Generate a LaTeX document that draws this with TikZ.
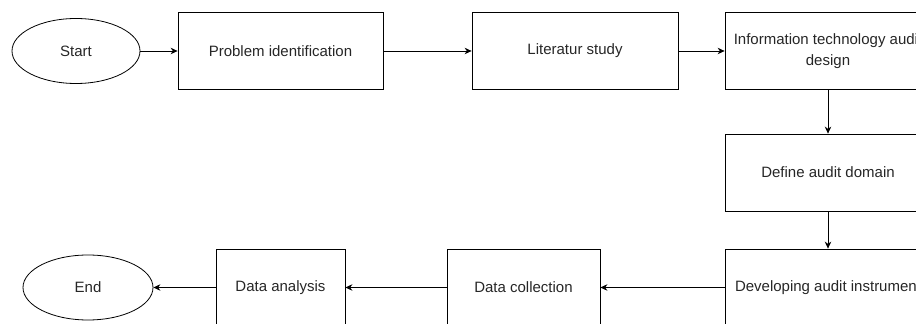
\documentclass[tikz,border=0pt]{standalone}
\usepackage{fontspec}
\setmainfont{Liberation Sans}
\usetikzlibrary{arrows.meta,shapes.geometric}

\begin{document}
\begin{tikzpicture}[x=1pt,y=1pt,font=\fontsize{15}{21}\selectfont,
    stepbox/.style={draw,line width=.8pt,minimum height=77,inner sep=2pt,align=center,text=black!85},
    term/.style={draw,ellipse,line width=.8pt,minimum height=65,text=black!85},
    flow/.style={-{Stealth[length=7pt,width=6.5pt]},line width=.8pt}]
  \useasboundingbox (0,0) rectangle (916,324);
  \clip (0,0) rectangle (916,324);
  \node[term,minimum width=128] (start) at (76,273) {Start};
  \node[stepbox,minimum width=205] (prob) at (280.5,273) {Problem identification};
  \node[stepbox,minimum width=206] (lit) at (575,273) {Literatur study};
  \node[stepbox,minimum width=206] (info) at (828,273) {Information technology audit\\design};
  \node[stepbox,minimum width=206] (dom) at (828,151.5) {Define audit domain};
  \node[stepbox,minimum width=206] (instr) at (828,36.5) {Developing audit instrument};
  \node[stepbox,minimum width=153] (coll) at (523.5,36.5) {Data collection};
  \node[stepbox,minimum width=129] (ana) at (280.5,36.5) {Data analysis};
  \node[term,minimum width=130] (end) at (88,36.5) {End};
  \foreach \a/\b in {start/prob,prob/lit,lit/info,instr/coll,coll/ana,ana/end}{
    \draw[flow] (\a) -- (\b);
  }
  \draw[flow] (info) -- (dom);
  \draw[flow] (dom) -- (instr);
\end{tikzpicture}
\end{document}
